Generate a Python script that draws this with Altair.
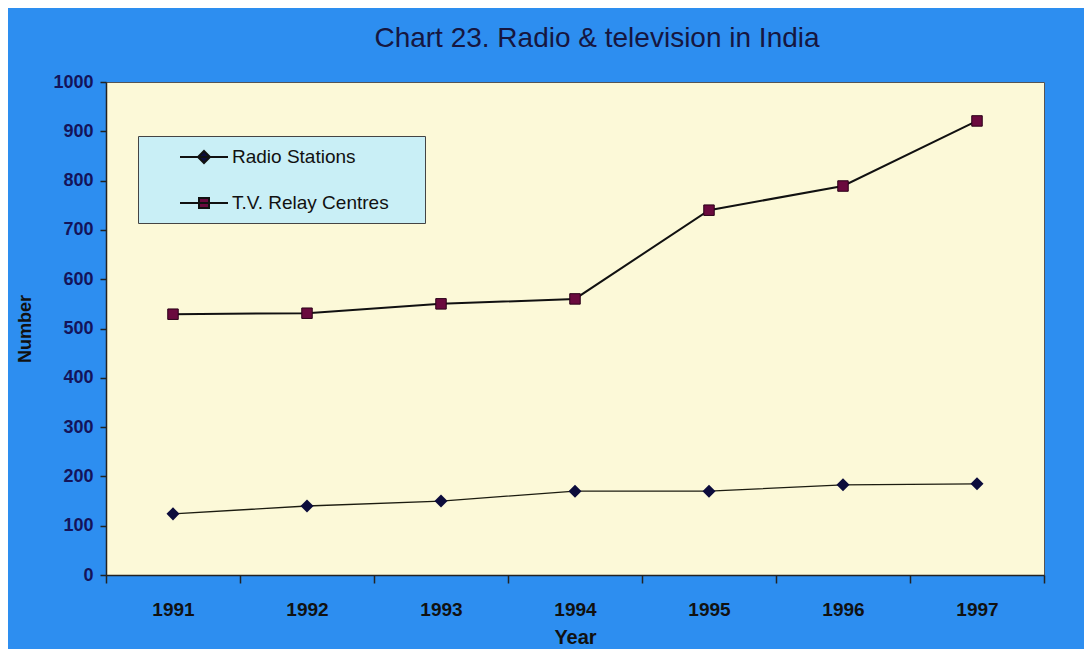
import altair as alt
import pandas as pd

years = ["1991", "1992", "1993", "1994", "1995", "1996", "1997"]
radio_stations = [124, 140, 150, 170, 170, 183, 185]
tv_relay_centres = [529, 531, 550, 560, 740, 789, 921]
series_names = ["Radio Stations", "T.V. Relay Centres"]
y_ticks = [0, 100, 200, 300, 400, 500, 600, 700, 800, 900, 1000]

rows = []
for y, r, t in zip(years, radio_stations, tv_relay_centres):
    rows.append({"year": y, "series": series_names[0], "value": r})
    rows.append({"year": y, "series": series_names[1], "value": t})
df = pd.DataFrame(rows)

FONT = "Liberation Sans"
NAVY = "#0c0c3c"
MAROON = "#6a0a3e"

x_enc = alt.X(
    "year:O",
    sort=years,
    scale=alt.Scale(type="band", paddingInner=0, paddingOuter=0),
    axis=alt.Axis(
        title="Year", labelAngle=0, tickBand="extent", tickSize=8,
        labelFontSize=19, labelFontWeight="bold", labelColor="#111111", labelFont=FONT,
        labelPadding=17, titleFontSize=20, titleFontWeight="bold", titleColor="#111111",
        titleFont=FONT, titlePadding=8, domainColor="#222222", domainWidth=1.5,
        tickColor="#222222", tickWidth=1.5, grid=False,
    ),
)
y_enc = alt.Y(
    "value:Q",
    scale=alt.Scale(domain=[0, 1000], nice=False),
    axis=alt.Axis(
        title="Number", values=y_ticks, format="d", tickSize=6, labelFontSize=18,
        labelFontWeight="bold", labelColor="#14145a", labelFont=FONT, labelPadding=7,
        titleFontSize=18, titleFontWeight="bold", titleColor="#111111", titleFont=FONT,
        titlePadding=18, domainColor="#222222", domainWidth=1.5, tickColor="#222222",
        tickWidth=1.5, grid=False,
    ),
)

base = alt.Chart(df)

radio_line = base.transform_filter(alt.datum.series == series_names[0]).mark_line(
    color="#1c1c10", strokeWidth=1.3
).encode(x=x_enc, y=y_enc)
tv_line = base.transform_filter(alt.datum.series == series_names[1]).mark_line(
    color="#111111", strokeWidth=2
).encode(x=x_enc, y=y_enc)
radio_pts = base.transform_filter(alt.datum.series == series_names[0]).mark_point(
    shape="diamond", filled=True, size=170, color=NAVY, opacity=1
).encode(x=x_enc, y=y_enc)
tv_pts = base.transform_filter(alt.datum.series == series_names[1]).mark_point(
    shape="square", filled=True, size=110, fill=MAROON, stroke="#2a0018", strokeWidth=1, opacity=1
).encode(x=x_enc, y=y_enc)

diamond_path = "M-2.4,0H2.4M0,-0.6L0.6,0L0,0.6L-0.6,0Z"
square_path = "M-2.4,0H2.4M-0.5,-0.5H0.5V0.5H-0.5Z"

legend = alt.Legend(
    title="\u00a0", titleOrient="right", titlePadding=26, titleFontSize=2,
    orient="none", legendX=32, legendY=54,
    fillColor="#c9eff6", strokeColor="#444444", padding=10,
    labelFontSize=19, labelFont=FONT, labelColor="#111111",
    symbolSize=400, symbolOpacity=1, symbolStrokeColor="#111111", symbolStrokeWidth=2,
    symbolOffset=45, labelOffset=17, rowPadding=25,
)
legend_layer = base.mark_point(
    filled=True, opacity=0, size=10, strokeWidth=2
).encode(
    x=x_enc, y=y_enc,
    shape=alt.Shape("series:N", scale=alt.Scale(domain=series_names, range=[diamond_path, square_path]), legend=legend),
    fill=alt.Fill("series:N", scale=alt.Scale(domain=series_names, range=[NAVY, MAROON]), legend=legend),
    stroke=alt.Stroke("series:N", scale=alt.Scale(domain=series_names, range=["#111111", "#111111"]), legend=legend),
)

chart = alt.layer(legend_layer, radio_line, tv_line, radio_pts, tv_pts).properties(
    width=938, height=493,
    autosize=alt.AutoSizeParams(type="none"),
    padding={"left": 98, "top": 74, "right": 40, "bottom": 74},
    background="#2d8ef0",
    title=alt.Title(
        "Chart 23. Radio & television in India", fontSize=28, font=FONT, fontWeight="normal",
        color="#161640", anchor="middle", offset=20, dx=22,
    ),
).configure_view(fill="#fcf9d8", stroke="#555555", strokeWidth=1)

chart.save("out.html", embed_options={"renderer": "svg", "actions": False})
